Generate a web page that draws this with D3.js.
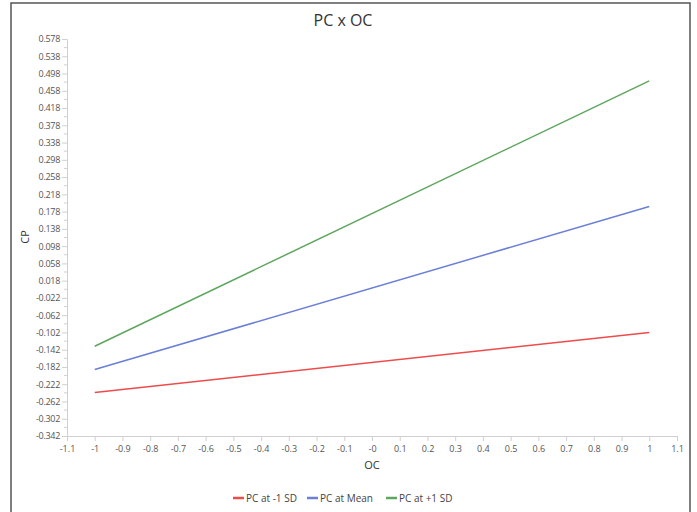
<html>
<head>
<meta charset="utf-8">
<script src="https://d3js.org/d3.v7.min.js"></script>
<style>
  body { margin: 0; background: #fff; }
  text { font-family: "Open Sans", "Noto Sans", sans-serif; }
</style>
</head>
<body>
<svg width="697" height="512"></svg>
<script>
// data
var xPoints = [-1, 1];
var seriesNames = ["PC at -1 SD", "PC at Mean", "PC at +1 SD"];
var lowValues = [-0.241, -0.102];
var meanValues = [-0.188, 0.190];
var highValues = [-0.134, 0.481];
var colors = ["#ee4b4b", "#6a7fd6", "#5ea65e"];

var yTicks = [0.578, 0.538, 0.498, 0.458, 0.418, 0.378, 0.338, 0.298, 0.258, 0.218,
  0.178, 0.138, 0.098, 0.058, 0.018, -0.022, -0.062, -0.102, -0.142, -0.182,
  -0.222, -0.262, -0.302, -0.342];
var yTickLabels = ["0.578", "0.538", "0.498", "0.458", "0.418", "0.378", "0.338", "0.298",
  "0.258", "0.218", "0.178", "0.138", "0.098", "0.058", "0.018", "-0.022", "-0.062",
  "-0.102", "-0.142", "-0.182", "-0.222", "-0.262", "-0.302", "-0.342"];
var xTicks = [-1.1, -1, -0.9, -0.8, -0.7, -0.6, -0.5, -0.4, -0.3, -0.2, -0.1, 0,
  0.1, 0.2, 0.3, 0.4, 0.5, 0.6, 0.7, 0.8, 0.9, 1, 1.1];
var xTickLabels = ["-1.1", "-1", "-0.9", "-0.8", "-0.7", "-0.6", "-0.5", "-0.4", "-0.3",
  "-0.2", "-0.1", "-0", "0.1", "0.2", "0.3", "0.4", "0.5", "0.6", "0.7", "0.8", "0.9", "1", "1.1"];

var allSeries = [lowValues, meanValues, highValues];

var svg = d3.select("svg");

// frame
svg.append("rect")
  .attr("x", 11).attr("y", 3)
  .attr("width", 679).attr("height", 530)
  .attr("fill", "none")
  .attr("stroke", "#555")
  .attr("stroke-width", 1.5);

var x = d3.scaleLinear().domain([-1.1, 1.1]).range([67, 677]);
var y = d3.scaleLinear().domain([-0.342, 0.578]).range([436, 39]);

// minor y ticks
var yMinor = yTicks.slice(1).map(function (d) { return d + 0.02; });
svg.append("g")
  .selectAll("line")
  .data(yMinor)
  .enter().append("line")
  .attr("x1", 64).attr("x2", 67)
  .attr("y1", function (d) { return y(d); })
  .attr("y2", function (d) { return y(d); })
  .attr("stroke", "#d0d0d0");

// y axis
var yAxis = svg.append("g")
  .attr("transform", "translate(67,0)")
  .call(d3.axisLeft(y).tickValues(yTicks)
    .tickFormat(function (d, i) { return yTickLabels[i]; })
    .tickSize(5).tickPadding(2));
yAxis.select(".domain").attr("stroke", "#d0d0d0");
yAxis.selectAll(".tick line").attr("stroke", "#d0d0d0");
yAxis.selectAll(".tick text")
  .attr("fill", "#555")
  .attr("font-size", 9)
  .style("font-family", "'Open Sans', sans-serif")
  .style("letter-spacing", "-0.3px");

// x axis
var xAxis = svg.append("g")
  .attr("transform", "translate(0,436)")
  .call(d3.axisBottom(x).tickValues(xTicks)
    .tickFormat(function (d, i) { return xTickLabels[i]; })
    .tickSize(5).tickPadding(5));
xAxis.select(".domain").attr("stroke", "#d0d0d0");
xAxis.selectAll(".tick line").attr("stroke", "#d0d0d0");
xAxis.selectAll(".tick text")
  .attr("fill", "#555")
  .attr("font-size", 9)
  .style("font-family", "'Open Sans', sans-serif");

// lines
var line = d3.line()
  .x(function (d, i) { return x(xPoints[i]); })
  .y(function (d) { return y(d); });

svg.append("g")
  .selectAll("path")
  .data(allSeries)
  .enter().append("path")
  .attr("d", line)
  .attr("fill", "none")
  .attr("stroke", function (d, i) { return colors[i]; })
  .attr("stroke-width", 1.5);

// title & axis titles
svg.append("text")
  .attr("x", 343).attr("y", 26)
  .attr("text-anchor", "middle")
  .attr("font-size", 16)
  .attr("fill", "#333")
  .text("PC x OC");

svg.append("text")
  .attr("x", 372).attr("y", 469)
  .attr("text-anchor", "middle")
  .attr("font-size", 11)
  .attr("fill", "#333")
  .text("OC");

svg.append("text")
  .attr("transform", "translate(29,237) rotate(-90)")
  .attr("text-anchor", "middle")
  .attr("font-size", 11)
  .attr("fill", "#333")
  .text("CP");

// legend
var legendX = [233, 307, 386];
var legend = svg.append("g");
legend.selectAll("line")
  .data(seriesNames)
  .enter().append("line")
  .attr("x1", function (d, i) { return legendX[i]; })
  .attr("x2", function (d, i) { return legendX[i] + 11; })
  .attr("y1", 498).attr("y2", 498)
  .attr("stroke", function (d, i) { return colors[i]; })
  .attr("stroke-width", 2.5);
legend.selectAll("text")
  .data(seriesNames)
  .enter().append("text")
  .attr("x", function (d, i) { return legendX[i] + 13; })
  .attr("y", 502)
  .attr("font-size", 10)
  .attr("fill", "#444")
  .text(function (d) { return d; });
</script>
</body>
</html>
